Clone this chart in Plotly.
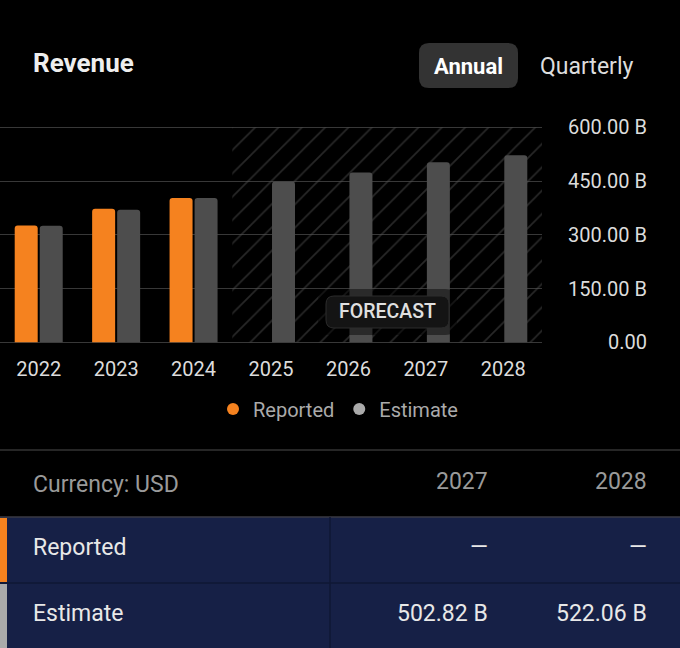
import plotly.graph_objects as go

# Données (milliards USD)
years = ["2022", "2023", "2024", "2025", "2026", "2027", "2028"]
reported = [326, 373, 403, None, None, None, None]
estimate = [325, 370, 403, 449, 474, 502.82, 522.06]

y_ticks = [0, 150, 300, 450, 600]
y_tick_labels = ["0.00", "150.00 B", "300.00 B", "450.00 B", "600.00 B"]

table_years = years[-2:]
table_reported = reported[-2:]
table_estimate = estimate[-2:]

W, H = 680, 648
ORANGE = "#f5821f"
GREY_BAR = "#4d4d4d"
GREY_DOT = "#aaaaaa"
NAVY = "#162046"
FONT = "Roboto"


def X(x):
    return x / W


def Y(y):
    return 1 - y / H


def rrect(x0, y0, x1, y1, r, fill, line=None, lw=0):
    p = (f"M{X(x0 + r)},{Y(y0)} L{X(x1 - r)},{Y(y0)} Q{X(x1)},{Y(y0)} {X(x1)},{Y(y0 + r)} "
         f"L{X(x1)},{Y(y1 - r)} Q{X(x1)},{Y(y1)} {X(x1 - r)},{Y(y1)} "
         f"L{X(x0 + r)},{Y(y1)} Q{X(x0)},{Y(y1)} {X(x0)},{Y(y1 - r)} "
         f"L{X(x0)},{Y(y0 + r)} Q{X(x0)},{Y(y0)} {X(x0 + r)},{Y(y0)} Z")
    return dict(type="path", path=p, xref="paper", yref="paper", fillcolor=fill,
                line=dict(color=line or fill, width=lw), layer="above")


def txt(s, x, y, size, color, anchor="left", bold=False):
    # les annotations ajoutent ~3px de marge interne
    dx = {"left": -3, "right": 3, "center": 0}[anchor]
    return dict(text=f"<b>{s}</b>" if bold else s, x=X(x + dx), y=Y(y), xref="paper", yref="paper",
                xanchor=anchor, yanchor="middle", showarrow=False,
                font=dict(family=FONT, size=size, color=color))


idx = list(range(len(years)))
forecast_start = next(i for i, v in enumerate(reported) if v is None) - 0.5
forecast_end = len(years) - 0.5

fig = go.Figure()

# zone prévision hachurée
fig.add_trace(go.Bar(
    x=[forecast_start], y=[y_ticks[-1]], offset=0, width=forecast_end - forecast_start,
    marker=dict(color="rgba(0,0,0,0)", line=dict(width=0),
                pattern=dict(shape="/", fgcolor="#505050", bgcolor="rgba(0,0,0,0)",
                             size=16.5, solidity=0.1)),
    hoverinfo="skip", showlegend=False,
))

fig.add_trace(go.Bar(
    x=idx, y=reported, name="Reported", offset=-0.31, width=0.297,
    marker=dict(color=ORANGE, cornerradius=3, line=dict(width=0)), showlegend=False,
))
fig.add_trace(go.Bar(
    x=idx, y=estimate, name="Estimate", offset=0.013, width=0.297,
    marker=dict(color=GREY_BAR, cornerradius=3, line=dict(width=0)), showlegend=False,
))

# légende avec pastilles rondes
for name, col in [("Reported", ORANGE), ("Estimate", GREY_DOT)]:
    fig.add_trace(go.Scatter(x=[None], y=[None], mode="markers", name=name,
                             marker=dict(color=col, size=13, symbol="circle")))

shapes = [
    # halo + étiquette FORECAST
    rrect(318, 289, 457, 335, 12, "rgba(0,0,0,0.45)"),
    rrect(326, 296, 449, 328, 8, "#141414", "#2c2c2c", 1),
    # bouton Annual
    rrect(419, 43, 518, 88, 10, "#333333"),
    # tableau
    dict(type="line", xref="paper", yref="paper", x0=0, x1=1, y0=Y(450), y1=Y(450),
         line=dict(color="#333333", width=1.5)),
    dict(type="rect", xref="paper", yref="paper", x0=0, x1=1, y0=Y(649), y1=Y(517),
         fillcolor=NAVY, line=dict(width=0)),
    dict(type="line", xref="paper", yref="paper", x0=0, x1=1, y0=Y(517), y1=Y(517),
         line=dict(color="#3a3a44", width=1.5)),
    dict(type="line", xref="paper", yref="paper", x0=0, x1=1, y0=Y(583), y1=Y(583),
         line=dict(color="#0f1735", width=1.5)),
    dict(type="line", xref="paper", yref="paper", x0=X(330), x1=X(330), y0=Y(517), y1=Y(649),
         line=dict(color="#0f1735", width=1.5)),
    dict(type="rect", xref="paper", yref="paper", x0=0, x1=X(7), y0=Y(582), y1=Y(518),
         fillcolor=ORANGE, line=dict(width=0)),
    dict(type="rect", xref="paper", yref="paper", x0=0, x1=X(7), y0=Y(649), y1=Y(584),
         fillcolor=GREY_DOT, line=dict(width=0)),
]


def fmt(v):
    return "—" if v is None else f"{v:.2f} B"


col_right = [487, 646]
annotations = [
    txt("Revenue", 34, 63, 26, "#eeeeee", bold=True),
    txt("Annual", 468, 66, 22, "#ffffff", "center", bold=True),
    txt("Quarterly", 586, 66, 23, "#dddddd", "center"),
    dict(text="FORECAST", x=X(387.5), y=Y(312), xref="paper", yref="paper", showarrow=False,
         xanchor="center", yanchor="middle",
         font=dict(family=FONT, size=19.5, color="#e0e0e0", weight=500)),
    txt("Currency: USD", 34, 484, 23, "#9a9a9a"),
    txt("Reported", 34, 547, 23, "#e8e8e8"),
    txt("Estimate", 34, 613, 23, "#e8e8e8"),
]
for yr, rep, est, xr in zip(table_years, table_reported, table_estimate, col_right):
    annotations.append(txt(yr, xr, 481, 23, "#9a9a9a", "right"))
    annotations.append(txt(fmt(rep), xr, 547, 23, "#e8e8e8", "right"))
    annotations.append(txt(fmt(est), xr, 613, 23, "#e8e8e8", "right"))

# axe y : on élargit un peu la plage pour garder les lignes de grille à 0 et 600
pad = 4
px_per_unit = (342.3 - 127.3) / 600

fig.update_layout(
    width=W, height=H,
    margin=dict(l=0, r=0, t=0, b=0, autoexpand=False),
    paper_bgcolor="#000000", plot_bgcolor="#000000",
    barmode="overlay",
    font=dict(family=FONT, color="#dddddd"),
    xaxis=dict(domain=[0, 542 / W], range=[-0.5, len(years) - 0.5],
               tickvals=idx, ticktext=years, showgrid=False, zeroline=False, showline=False,
               ticks="", ticklabelstandoff=11, tickfont=dict(size=20, color="#dcdcdc"),
               fixedrange=True),
    yaxis=dict(domain=[Y(342.3 + pad * px_per_unit), Y(127.3 - pad * px_per_unit)],
               range=[-pad, 600 + pad], anchor="free", position=647 / W,
               side="left", tickvals=y_ticks, ticktext=y_tick_labels,
               showgrid=True, gridcolor="#383838", gridwidth=1.3, zeroline=False,
               showline=False, ticks="", tickfont=dict(size=20, color="#dcdcdc"),
               fixedrange=True),
    legend=dict(orientation="h", x=X(338), xanchor="center", y=Y(409), yanchor="middle",
                font=dict(family=FONT, size=20, color="#aaaaaa"), itemsizing="constant",
                itemwidth=30, bgcolor="rgba(0,0,0,0)"),
    shapes=shapes,
    annotations=annotations,
)

fig.write_html("out.html", config={"displayModeBar": False},
               post_script="document.body.style.margin='0';document.body.style.background='#000';")
